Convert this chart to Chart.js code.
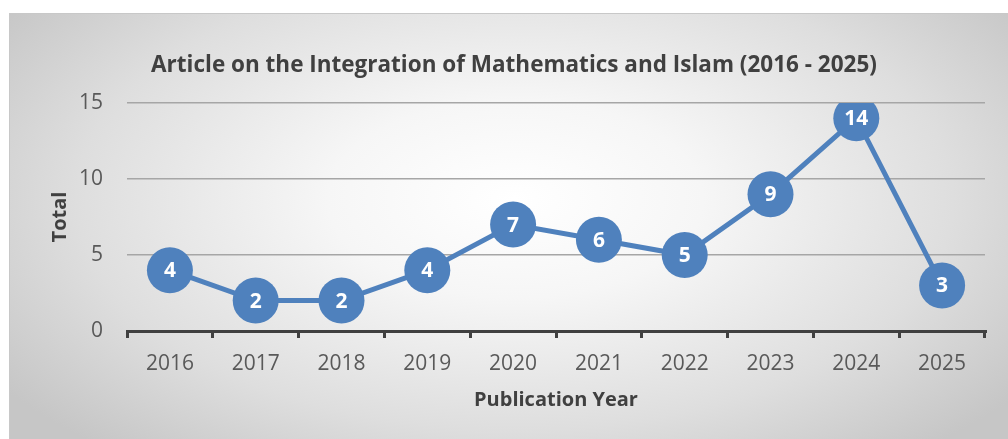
<!DOCTYPE html>
<html>
<head>
<meta charset="utf-8">
<script src="https://cdn.jsdelivr.net/npm/chart.js@4.4.1/dist/chart.umd.min.js"></script>
<style>
    html, body { margin: 0; padding: 0; background: #ffffff; overflow: hidden; }
    #wrap { position: relative; width: 1008px; height: 439px; }
    #panel {
        position: absolute; left: 9px; top: 13px; width: 1010px; height: 440px;
        border-top: 1px solid #c8c8c8; border-left: 1px solid #c8c8c8;
        background: radial-gradient(ellipse 62% 75% at 50% 42%, #ffffff 0%, #f6f6f6 30%, #dedede 70%, #c6c6c6 100%);
    }
    #trendChart { position: absolute; left: 0; top: 0; }
</style>
</head>
<body>
<div id="wrap">
    <div id="panel"></div>
    <canvas id="trendChart" width="1008" height="439"></canvas>
</div>
<script>
// 데이터
const CHART_TITLE = 'Article on the Integration of Mathematics and Islam (2016 - 2025)';
const YEARS = ['2016', '2017', '2018', '2019', '2020', '2021', '2022', '2023', '2024', '2025'];
const TOTALS = [4, 2, 2, 4, 7, 6, 5, 9, 14, 3];
const Y_TICKS = [0, 5, 10, 15];

const FONT = "'Open Sans', 'Liberation Sans', sans-serif";
const LINE_BLUE = '#4F81BD';

// 제목 (박스 중앙 기준으로 그림)
const titlePlugin = {
    id: 'panelTitle',
    afterDraw(chart) {
        const ctx = chart.ctx;
        ctx.save();
        ctx.font = 'bold 22.5px ' + FONT;
        ctx.fillStyle = '#404040';
        ctx.textAlign = 'center';
        ctx.textBaseline = 'middle';
        ctx.fillText(CHART_TITLE, 514, 66);
        ctx.restore();
    }
};

// 점 안의 값 라벨
const valueLabels = {
    id: 'valueLabels',
    afterDatasetsDraw(chart) {
        const ctx = chart.ctx;
        const meta = chart.getDatasetMeta(0);
        ctx.save();
        ctx.font = 'bold 21px ' + FONT;
        ctx.fillStyle = '#ffffff';
        ctx.textAlign = 'center';
        ctx.textBaseline = 'middle';
        meta.data.forEach((pt, i) => {
            ctx.fillText(String(TOTALS[i]), pt.x, pt.y + 1);
        });
        ctx.restore();
    }
};

const ctx = document.getElementById('trendChart');

new Chart(ctx, {
    type: 'line',
    data: {
        labels: YEARS,
        datasets: [{
            label: 'Total',
            data: TOTALS,
            borderColor: LINE_BLUE,
            backgroundColor: LINE_BLUE,
            borderWidth: 5,
            pointRadius: 23,
            pointHoverRadius: 23,
            pointBackgroundColor: LINE_BLUE,
            pointBorderWidth: 0,
            tension: 0
        }]
    },
    options: {
        responsive: false,
        animation: false,
        layout: {
            padding: { top: 103, left: 9, right: 15, bottom: 0 }
        },
        plugins: {
            legend: { display: false },
            tooltip: { enabled: false },
            title: { display: false }
        },
        scales: {
            x: {
                offset: true,
                afterFit(scale) { scale.height = 108; },
                grid: {
                    offset: true,
                    drawOnChartArea: false,
                    drawTicks: true,
                    tickLength: 7,
                    tickColor: '#404040',
                    lineWidth: 3
                },
                border: { display: true, color: '#404040', width: 3 },
                ticks: {
                    color: '#595959',
                    padding: 13,
                    maxRotation: 0,
                    autoSkip: false,
                    font: { size: 21, family: FONT }
                },
                title: {
                    display: true,
                    text: 'Publication Year',
                    color: '#404040',
                    font: { size: 20, weight: 'bold', family: FONT },
                    padding: { top: 0, bottom: 27 }
                }
            },
            y: {
                min: 0,
                max: 15,
                afterFit(scale) { scale.width = 118; },
                afterBuildTicks(scale) {
                    scale.ticks = Y_TICKS.map(v => ({ value: v }));
                },
                grid: {
                    drawTicks: false,
                    color: (c) => c.tick && c.tick.value === 0 ? 'rgba(0,0,0,0)' : '#a6a6a6',
                    lineWidth: 1.5
                },
                border: { display: false },
                ticks: {
                    color: '#595959',
                    padding: 24,
                    font: { size: 21, family: FONT }
                },
                title: {
                    display: true,
                    text: 'Total',
                    color: '#404040',
                    font: { size: 20, weight: 'bold', family: FONT },
                    padding: { top: 39, bottom: 0 }
                }
            }
        }
    },
    plugins: [valueLabels, titlePlugin]
});
</script>
</body>
</html>
